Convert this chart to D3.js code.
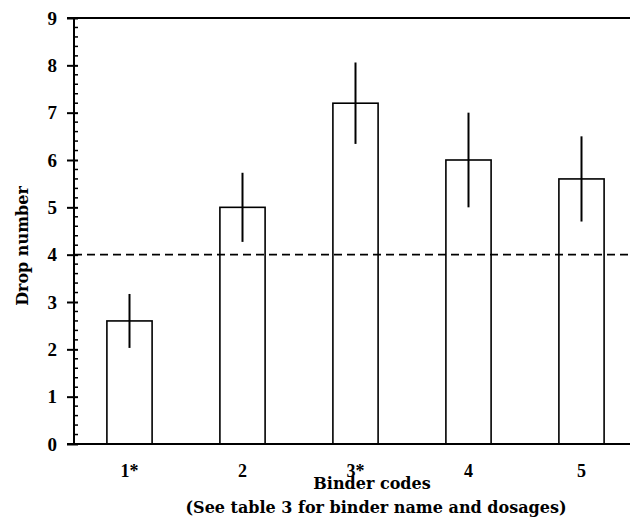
<!DOCTYPE html>
<html>
<head>
<meta charset="utf-8">
<script src="https://cdn.jsdelivr.net/npm/d3@7"></script>
<style>
  body { margin: 0; background: #fff; }
  text { font-family: 'Liberation Serif', serif; font-weight: bold; fill: #000; }
  .title { font-family: 'DejaVu Serif', serif; }
</style>
</head>
<body>
<div id="chart"></div>
<script>
const codes = ['1*', '2', '3*', '4', '5']
const dropNumber = [2.6, 5.0, 7.2, 6.0, 5.6]
const dropError = [0.57, 0.73, 0.86, 1.0, 0.9]
const yTicks = [0, 1, 2, 3, 4, 5, 6, 7, 8, 9]
const threshold = 4

const width = 630, height = 520
const margin = { top: 18, right: -8, bottom: 76, left: 74 }

const svg = d3.select('#chart').append('svg')
    .attr('width', width)
    .attr('height', height)

const x = d3.scaleBand()
    .domain(codes)
    .range([margin.left - 1, width - margin.right])
    .paddingInner(0.6)
    .paddingOuter(0.3)

const y = d3.scaleLinear()
    .domain([0, 9])
    .range([height - margin.bottom, margin.top])

// minor ticks on the inside of the y axis
const minor = d3.range(0, 9.001, 0.2).filter(v => Math.abs(v - Math.round(v)) > 1e-6)
svg.append('g')
    .selectAll('line')
    .data(minor)
    .join('line')
    .attr('x1', margin.left)
    .attr('x2', margin.left + 4)
    .attr('y1', d => y(d))
    .attr('y2', d => y(d))
    .attr('stroke', '#000')
    .attr('stroke-width', 1.5)

// y axis with major ticks crossing the line
const yAxis = svg.append('g')
    .attr('transform', 'translate(' + margin.left + ',0)')
    .call(d3.axisLeft(y).tickValues(yTicks).tickSize(7).tickPadding(10).tickFormat(d3.format('d')))
yAxis.select('.domain').remove()
yAxis.selectAll('.tick line')
    .attr('x2', 4)
    .attr('x1', -7)
    .attr('stroke-width', 2)
yAxis.selectAll('.tick text')
    .style('font-size', '19px')
    .style('font-family', "'Liberation Serif', serif")

svg.append('line')
    .attr('x1', margin.left).attr('x2', margin.left)
    .attr('y1', y(9)).attr('y2', y(0))
    .attr('stroke', '#000').attr('stroke-width', 2)

// top frame line
svg.append('line')
    .attr('x1', margin.left - 7).attr('x2', width)
    .attr('y1', y(9)).attr('y2', y(9))
    .attr('stroke', '#000').attr('stroke-width', 2)

// bars
svg.append('g')
    .selectAll('rect')
    .data(dropNumber)
    .join('rect')
    .attr('x', (d, i) => x(codes[i]))
    .attr('y', d => y(d))
    .attr('width', x.bandwidth())
    .attr('height', d => y(0) - y(d))
    .attr('fill', '#fff')
    .attr('stroke', '#000')
    .attr('stroke-width', 1.6)

// reference line
svg.append('line')
    .attr('x1', margin.left).attr('x2', width)
    .attr('y1', y(threshold)).attr('y2', y(threshold))
    .attr('stroke', '#000')
    .attr('stroke-width', 1.6)
    .attr('stroke-dasharray', '8,5')

// error bars
svg.append('g')
    .selectAll('line')
    .data(dropNumber)
    .join('line')
    .attr('x1', (d, i) => x(codes[i]) + x.bandwidth() / 2)
    .attr('x2', (d, i) => x(codes[i]) + x.bandwidth() / 2)
    .attr('y1', (d, i) => y(d - dropError[i]))
    .attr('y2', (d, i) => y(d + dropError[i]))
    .attr('stroke', '#000')
    .attr('stroke-width', 2)

const xAxis = svg.append('g')
    .attr('transform', 'translate(0,' + y(0) + ')')
    .call(d3.axisBottom(x).tickSize(0).tickPadding(20))
xAxis.select('.domain').remove()
xAxis.selectAll('.tick text')
    .style('font-size', '18px')
    .style('font-family', "'Liberation Serif', serif")

svg.append('line')
    .attr('x1', margin.left - 7).attr('x2', width)
    .attr('y1', y(0)).attr('y2', y(0))
    .attr('stroke', '#000').attr('stroke-width', 2)

svg.append('text')
    .attr('class', 'title')
    .attr('x', 372)
    .attr('y', 489)
    .attr('text-anchor', 'middle')
    .style('font-size', '16px')
    .text('Binder codes')

svg.append('text')
    .attr('class', 'title')
    .attr('x', 376)
    .attr('y', 513)
    .attr('text-anchor', 'middle')
    .style('font-size', '16px')
    .text('(See table 3 for binder name and dosages)')

svg.append('text')
    .attr('class', 'title')
    .attr('transform', 'translate(28,' + 246 + ') rotate(-90)')
    .attr('text-anchor', 'middle')
    .style('font-size', '16px')
    .text('Drop number')
</script>
</body>
</html>
